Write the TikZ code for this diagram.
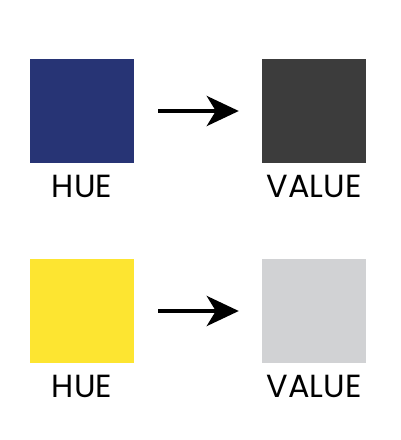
\documentclass[tikz,border=0pt]{standalone}
\usepackage{fontspec}
\setmainfont{Poppins}
\usetikzlibrary{arrows.meta, positioning}
\definecolor{huenavy}{RGB}{39,52,117}
\definecolor{huesun}{RGB}{253,229,49}
\definecolor{valdark}{RGB}{60,60,60}
\definecolor{vallight}{RGB}{209,210,212}

\begin{document}
\begin{tikzpicture}[
  x=1pt, y=-1pt,
  every node/.style={font=\fontsize{32}{32}\selectfont, inner sep=0pt},
  swatch/.style={minimum size=104pt, draw=none},
  toval/.style={-{Stealth[length=32pt, width=30pt, inset=9pt]}, line width=4pt,
    shorten <=24pt, shorten >=23pt},
]
  \useasboundingbox (0,0) rectangle (400,440);

  % top row
  \node[swatch, fill=huenavy] (navy) at (82,111) {};
  \node[swatch, fill=valdark] (dark) at (314,111) {};
  \node[below=12pt of navy] (hueA) {HUE};
  \node[below=12pt of dark] (valA) {VALUE};
  \draw[toval] (navy) -- (dark);

  % bottom row
  \node[swatch, fill=huesun] (sun) at (82,311) {};
  \node[swatch, fill=vallight] (light) at (314,311) {};
  \node[below=12pt of sun] (hueB) {HUE};
  \node[below=12pt of light] (valB) {VALUE};
  \draw[toval] (sun) -- (light);
\end{tikzpicture}
\end{document}
